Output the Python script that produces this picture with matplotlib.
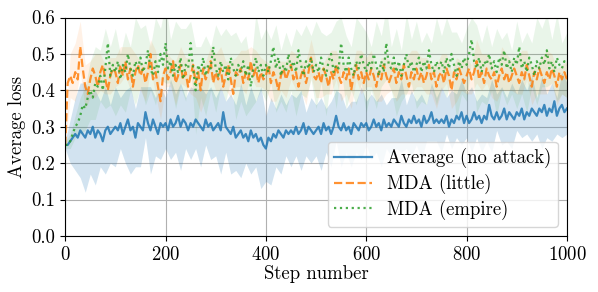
import numpy as np
import matplotlib
matplotlib.use("Agg")
import matplotlib.pyplot as plt

plt.rcParams['font.family'] = 'serif'
plt.rcParams['font.serif'] = ['cmr10', 'DejaVu Serif']
plt.rcParams['mathtext.fontset'] = 'cm'
plt.rcParams['axes.formatter.use_mathtext'] = True
plt.rcParams['font.size'] = 13.5

# steps sampled every 5 for the means, every 10 for the spreads
steps = np.arange(0, 1001, 5)
band_steps = np.arange(0, 1001, 10)

avg_mean = [
    0.25,0.25,0.26,0.27,0.28,0.27,0.29,0.28,0.27,0.29,
    0.28,0.30,0.27,0.29,0.28,0.26,0.29,0.30,0.28,0.29,
    0.30,0.29,0.31,0.28,0.30,0.32,0.29,0.30,0.27,0.31,
    0.30,0.29,0.34,0.31,0.29,0.32,0.30,0.28,0.31,0.30,
    0.31,0.29,0.32,0.30,0.31,0.33,0.30,0.32,0.31,0.29,
    0.31,0.30,0.32,0.31,0.30,0.29,0.32,0.30,0.31,0.29,
    0.30,0.31,0.29,0.34,0.30,0.29,0.28,0.30,0.27,0.28,
    0.29,0.27,0.28,0.26,0.29,0.27,0.28,0.26,0.27,0.25,
    0.24,0.27,0.26,0.28,0.27,0.29,0.28,0.27,0.29,0.28,
    0.29,0.28,0.30,0.28,0.29,0.31,0.28,0.30,0.29,0.28,
    0.29,0.30,0.28,0.31,0.29,0.30,0.28,0.30,0.33,0.30,
    0.29,0.31,0.29,0.30,0.28,0.31,0.30,0.29,0.31,0.30,
    0.31,0.29,0.30,0.32,0.30,0.31,0.29,0.32,0.30,0.31,
    0.30,0.32,0.31,0.30,0.33,0.31,0.30,0.32,0.31,0.33,
    0.31,0.32,0.30,0.33,0.31,0.32,0.34,0.31,0.32,0.31,
    0.32,0.31,0.33,0.30,0.32,0.31,0.33,0.32,0.34,0.31,
    0.33,0.31,0.32,0.34,0.32,0.33,0.31,0.33,0.32,0.36,
    0.33,0.32,0.34,0.32,0.33,0.35,0.32,0.34,0.33,0.32,
    0.34,0.33,0.35,0.32,0.34,0.33,0.35,0.34,0.33,0.35,
    0.34,0.36,0.33,0.35,0.34,0.37,0.33,0.35,0.36,0.34,
    0.35]

little_mean = [
    0.25,0.42,0.44,0.42,0.45,0.43,0.52,0.46,0.41,0.39,
    0.43,0.46,0.44,0.41,0.45,0.47,0.43,0.40,0.44,0.46,
    0.45,0.42,0.47,0.44,0.48,0.43,0.46,0.41,0.45,0.47,
    0.44,0.46,0.42,0.45,0.50,0.43,0.45,0.41,0.37,0.44,
    0.46,0.43,0.45,0.48,0.42,0.44,0.47,0.43,0.45,0.41,
    0.44,0.47,0.42,0.45,0.40,0.46,0.43,0.45,0.48,0.42,
    0.45,0.43,0.46,0.41,0.44,0.47,0.43,0.39,0.45,0.44,
    0.46,0.42,0.45,0.43,0.48,0.44,0.46,0.42,0.45,0.43,
    0.44,0.47,0.42,0.45,0.43,0.40,0.44,0.46,0.43,0.45,
    0.47,0.43,0.45,0.41,0.44,0.46,0.42,0.45,0.49,0.44,
    0.43,0.45,0.42,0.46,0.44,0.41,0.45,0.43,0.47,0.44,
    0.42,0.45,0.43,0.46,0.40,0.44,0.47,0.43,0.45,0.42,
    0.45,0.43,0.46,0.44,0.41,0.45,0.43,0.47,0.44,0.42,
    0.44,0.46,0.42,0.45,0.43,0.47,0.44,0.41,0.45,0.43,
    0.46,0.43,0.45,0.42,0.44,0.47,0.43,0.45,0.41,0.44,
    0.45,0.42,0.46,0.44,0.40,0.45,0.43,0.46,0.44,0.42,
    0.44,0.46,0.43,0.45,0.48,0.43,0.45,0.42,0.46,0.44,
    0.43,0.45,0.41,0.44,0.46,0.43,0.45,0.42,0.44,0.46,
    0.44,0.42,0.45,0.43,0.47,0.44,0.41,0.45,0.43,0.46,
    0.44,0.42,0.45,0.43,0.46,0.44,0.41,0.45,0.43,0.45,
    0.43]

empire_mean = [
    0.25,0.25,0.26,0.28,0.30,0.31,0.33,0.36,0.35,0.38,
    0.40,0.38,0.42,0.41,0.44,0.40,0.46,0.53,0.44,0.47,
    0.45,0.48,0.43,0.47,0.45,0.50,0.46,0.44,0.48,0.46,
    0.49,0.45,0.47,0.51,0.46,0.44,0.48,0.45,0.50,0.47,
    0.53,0.46,0.48,0.44,0.47,0.45,0.49,0.43,0.47,0.46,
    0.53,0.46,0.40,0.47,0.45,0.49,0.44,0.47,0.46,0.52,
    0.46,0.44,0.48,0.45,0.47,0.43,0.49,0.46,0.44,0.47,
    0.45,0.48,0.44,0.47,0.41,0.46,0.49,0.45,0.47,0.44,
    0.47,0.45,0.48,0.52,0.46,0.49,0.44,0.47,0.45,0.50,
    0.46,0.48,0.45,0.51,0.47,0.44,0.48,0.46,0.49,0.45,
    0.47,0.45,0.49,0.46,0.44,0.48,0.50,0.45,0.47,0.46,
    0.53,0.47,0.45,0.49,0.46,0.44,0.48,0.46,0.50,0.47,
    0.45,0.48,0.46,0.50,0.47,0.44,0.48,0.45,0.53,0.47,
    0.46,0.49,0.45,0.48,0.44,0.47,0.50,0.46,0.48,0.45,
    0.47,0.49,0.45,0.48,0.46,0.51,0.47,0.45,0.48,0.46,
    0.48,0.45,0.49,0.46,0.50,0.47,0.44,0.48,0.46,0.49,
    0.47,0.50,0.54,0.48,0.46,0.49,0.45,0.48,0.47,0.50,
    0.46,0.48,0.45,0.49,0.47,0.51,0.46,0.48,0.45,0.49,
    0.47,0.52,0.46,0.48,0.45,0.49,0.47,0.44,0.48,0.46,
    0.49,0.47,0.51,0.46,0.48,0.45,0.49,0.47,0.46,0.48,
    0.47]

avg_spread = [
    0.01,0.06,0.10,0.13,0.15,0.11,0.13,0.09,0.12,0.08,
    0.11,0.07,0.10,0.12,0.08,0.11,0.07,0.12,0.08,0.10,
    0.07,0.11,0.08,0.12,0.07,0.10,0.08,0.11,0.07,0.10,
    0.08,0.12,0.07,0.11,0.09,0.13,0.08,0.12,0.09,0.14,
    0.09,0.12,0.08,0.11,0.07,0.10,0.08,0.11,0.06,0.09,
    0.07,0.10,0.06,0.09,0.07,0.10,0.06,0.09,0.07,0.10,
    0.06,0.09,0.07,0.10,0.06,0.08,0.07,0.10,0.06,0.09,
    0.06,0.09,0.05,0.08,0.06,0.09,0.05,0.08,0.06,0.09,
    0.06,0.09,0.05,0.08,0.06,0.10,0.05,0.08,0.06,0.09,
    0.05,0.08,0.06,0.09,0.05,0.10,0.06,0.08,0.05,0.09,
    0.07]

little_spread = [
    0.01,0.06,0.08,0.07,0.06,0.05,0.06,0.05,0.04,0.05,
    0.04,0.05,0.04,0.06,0.05,0.04,0.05,0.04,0.06,0.05,
    0.05,0.04,0.06,0.05,0.04,0.05,0.04,0.06,0.05,0.04,
    0.05,0.06,0.04,0.05,0.04,0.05,0.06,0.04,0.05,0.04,
    0.04,0.05,0.06,0.04,0.05,0.04,0.05,0.04,0.06,0.05,
    0.05,0.04,0.05,0.06,0.04,0.05,0.04,0.05,0.04,0.06,
    0.04,0.05,0.04,0.06,0.05,0.04,0.05,0.04,0.05,0.06,
    0.05,0.04,0.05,0.04,0.06,0.05,0.04,0.05,0.06,0.04,
    0.05,0.04,0.06,0.05,0.04,0.05,0.04,0.06,0.05,0.04,
    0.05,0.06,0.04,0.05,0.04,0.05,0.06,0.04,0.05,0.04,
    0.05]

empire_spread = [
    0.01,0.02,0.03,0.05,0.06,0.08,0.10,0.07,0.11,0.08,
    0.12,0.07,0.11,0.06,0.12,0.08,0.11,0.06,0.12,0.07,
    0.11,0.06,0.12,0.08,0.10,0.06,0.12,0.07,0.11,0.06,
    0.12,0.07,0.10,0.06,0.12,0.08,0.11,0.06,0.12,0.07,
    0.10,0.06,0.12,0.07,0.11,0.06,0.12,0.08,0.10,0.06,
    0.12,0.07,0.11,0.06,0.12,0.07,0.10,0.06,0.12,0.08,
    0.11,0.06,0.12,0.07,0.10,0.06,0.12,0.07,0.11,0.06,
    0.12,0.08,0.10,0.06,0.12,0.07,0.11,0.06,0.12,0.07,
    0.10,0.06,0.12,0.08,0.11,0.06,0.12,0.07,0.10,0.06,
    0.12,0.07,0.11,0.06,0.12,0.08,0.10,0.06,0.12,0.07,
    0.09]

labels = ["Average (no attack)", "MDA (little)", "MDA (empire)"]
colors = ["#1f77b4", "#ff7f0e", "#2ca02c"]
styles = ["-", "--", ":"]

fig = plt.figure(figsize=(5.98, 2.92), dpi=100)
ax = fig.add_axes([0.109, 0.192, 0.839, 0.748])

series = [(avg_mean, avg_spread), (little_mean, little_spread), (empire_mean, empire_spread)]
band_alpha = [0.2, 0.1, 0.1]
for (m, s), c, ba in zip(series, colors, band_alpha):
    m = np.asarray(m)
    s = np.asarray(s)
    mb = m[::2]
    ax.fill_between(band_steps, mb - s, mb + s, color=c, alpha=ba, linewidth=0)
for (m, s), lab, c, ls in zip(series, labels, colors, styles):
    ax.plot(steps, m, color=c, linestyle=ls, linewidth=1.6, label=lab, alpha=0.85)

ax.set_xlim(0, 1000)
ax.set_ylim(0, 0.6)
ax.set_xticks([0, 200, 400, 600, 800, 1000])
ax.set_yticks([0.0, 0.1, 0.2, 0.3, 0.4, 0.5, 0.6])
ax.set_yticklabels(["0.0", "0.1", "0.2", "0.3", "0.4", "0.5", "0.6"])
ax.grid(True, color="#b0b0b0", linewidth=0.8)
ax.set_axisbelow(True)
ax.set_xlabel("Step number", labelpad=1)
ax.set_ylabel("Average loss", labelpad=4)
ax.legend(loc="lower right", framealpha=0.8, fontsize=13.5, borderpad=0.35,
          labelspacing=0.3)

fig.savefig("out.png", dpi=100)
